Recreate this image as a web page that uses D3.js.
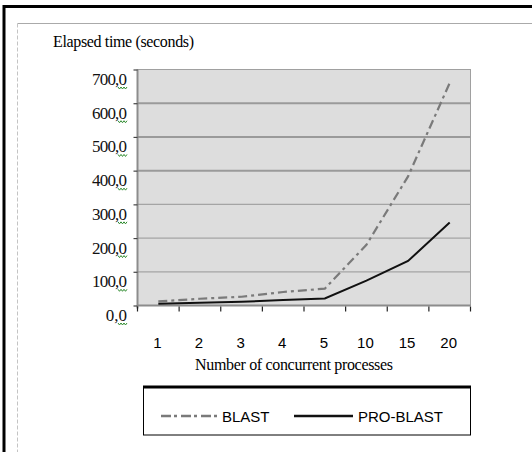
<!DOCTYPE html>
<html>
<head>
<meta charset="utf-8">
<script src="https://cdn.jsdelivr.net/npm/d3@7/dist/d3.min.js"></script>
<style>
  body { margin: 0; background: #fff; }
</style>
</head>
<body>
<svg id="chart" width="532" height="452"></svg>
<script>
// data
const processes = ['1', '2', '3', '4', '5', '10', '15', '20'];
const blast = [12, 20, 26, 40, 50, 180, 383, 660];
const proBlast = [5, 8, 11, 16, 21, 74, 132, 246];
const yTicks = [0, 100, 200, 300, 400, 500, 600, 700];
const seriesNames = ['BLAST', 'PRO-BLAST'];

const SERIF = "'Liberation Serif', 'DejaVu Serif', 'Times New Roman', serif";
const SANS = "'Liberation Sans', Arial, sans-serif";

const svg = d3.select('#chart');
const plot = { left: 137.5, right: 470.5, top: 69.5, bottom: 305.5 };

// page frames
svg.append('rect').attr('width', 532).attr('height', 452).attr('fill', '#fff');
svg.append('path')
  .attr('d', 'M4,452 L4,6.5 L532,6.5')
  .attr('fill', 'none').attr('stroke', '#000').attr('stroke-width', 3);
svg.append('line')
  .attr('x1', 17.5).attr('x2', 532).attr('y1', 23.5).attr('y2', 23.5)
  .attr('stroke', '#aaa').attr('stroke-width', 1);
svg.append('line')
  .attr('x1', 17.5).attr('x2', 17.5).attr('y1', 23.5).attr('y2', 452)
  .attr('stroke', '#c4c4c4').attr('stroke-width', 1)
  .attr('stroke-dasharray', '4,2');

const x = d3.scaleBand().domain(processes).range([plot.left, plot.right]);
const y = d3.scaleLinear().domain([0, 700]).range([plot.bottom, plot.top]);

// plot background
svg.append('rect')
  .attr('x', plot.left).attr('y', plot.top)
  .attr('width', plot.right - plot.left).attr('height', plot.bottom - plot.top)
  .attr('fill', '#dddddd')
  .attr('stroke', '#a0a0a0').attr('stroke-width', 1);

// gridlines
svg.append('g').selectAll('line')
  .data(yTicks.filter(d => d > 0 && d < 700))
  .enter().append('line')
    .attr('x1', plot.left).attr('x2', plot.right)
    .attr('y1', d => y(d)).attr('y2', d => y(d))
    .attr('stroke', d => d >= 400 ? '#9a9a9a' : '#a4a4a4')
    .attr('stroke-width', d => d >= 400 ? 2 : 1.2);

// y axis
const yAxis = svg.append('g')
  .attr('transform', `translate(${plot.left},0)`)
  .call(d3.axisLeft(y).tickValues(yTicks).tickSize(4).tickFormat(''));
yAxis.select('.domain').attr('stroke', '#8c8c8c').attr('stroke-width', 2)
  .attr('d', `M0,${plot.top}V${plot.bottom + 3}`);
yAxis.selectAll('.tick line').attr('stroke', '#444').attr('stroke-width', 1.2);

const yLab = svg.append('g');
yLab.selectAll('text')
  .data(yTicks)
  .enter().append('text')
    .attr('x', 127)
    .attr('y', d => y(d) + 15.5)
    .attr('text-anchor', 'end')
    .style('font-family', SERIF)
    .attr('font-size', 17)
    .attr('textLength', d => d === 0 ? null : 35)
    .attr('fill', '#111')
    .text(d => d3.format('.1f')(d).replace('.', ','));
// green spell-check squiggles under the last digit
yLab.selectAll('path')
  .data(yTicks)
  .enter().append('path')
    .attr('transform', d => `translate(118,${y(d) + 16.5})`)
    .attr('d', 'M0,1 L1.5,3 L3,1 L4.5,3 L6,1 L7.5,3 L9,1')
    .attr('fill', 'none').attr('stroke', '#2e8b2e').attr('stroke-width', 1);

// x axis
const xAxis = svg.append('g')
  .attr('transform', `translate(0,${plot.bottom})`)
  .call(d3.axisBottom(x).tickSize(0).tickPadding(0));
xAxis.select('.domain').attr('stroke', '#8c8c8c').attr('stroke-width', 2)
  .attr('d', `M${plot.left},0H${plot.right}`);
xAxis.selectAll('.tick text')
  .style('font-family', SANS).attr('font-size', 15).attr('fill', '#000')
  .attr('dx', -1).attr('y', 42).attr('dy', null);
svg.append('g').selectAll('line')
  .data(processes.concat(['end']))
  .enter().append('line')
    .attr('x1', d => d === 'end' ? plot.right : x(d))
    .attr('x2', d => d === 'end' ? plot.right : x(d))
    .attr('y1', plot.bottom + 1).attr('y2', plot.bottom + 6)
    .attr('stroke', '#222').attr('stroke-width', 1.2);

// series
const line = d3.line()
  .x((d, i) => x(processes[i]) + x.bandwidth() / 2)
  .y(d => y(d));

svg.append('path')
  .datum(blast)
  .attr('d', line)
  .attr('fill', 'none')
  .attr('stroke', '#7a7a7a')
  .attr('stroke-width', 2.2)
  .attr('stroke-dasharray', '9,4,3,4');

svg.append('path')
  .datum(proBlast)
  .attr('d', line)
  .attr('fill', 'none')
  .attr('stroke', '#111')
  .attr('stroke-width', 2);

// axis titles
svg.append('text').style('font-family', SERIF)
  .attr('x', 53).attr('y', 47)
  .attr('font-size', 16).attr('textLength', 141)
  .text('Elapsed time (seconds)');
svg.append('text').style('font-family', SERIF)
  .attr('x', 195).attr('y', 370)
  .attr('font-size', 16).attr('textLength', 198)
  .text('Number of concurrent processes');

// legend
const leg = svg.append('g');
leg.append('rect')
  .attr('x', 143.5).attr('y', 386.5).attr('width', 327).attr('height', 48.5)
  .attr('fill', '#fff').attr('stroke', '#000').attr('stroke-width', 1);
leg.append('line')
  .attr('x1', 143).attr('x2', 471).attr('y1', 387).attr('y2', 387)
  .attr('stroke', '#000').attr('stroke-width', 3);

const legItems = [
  { x: 161, w: 58, tx: 222, color: '#7a7a7a', dash: '10,3,3,4' },
  { x: 294, w: 59, tx: 358, color: '#111', dash: null }
];
legItems.forEach((it, i) => {
  leg.append('line')
    .attr('x1', it.x).attr('x2', it.x + it.w)
    .attr('y1', 416).attr('y2', 416)
    .attr('stroke', it.color).attr('stroke-width', 2.5)
    .attr('stroke-dasharray', it.dash);
  leg.append('text')
    .style('font-family', SANS)
    .attr('x', it.tx).attr('y', 421.5)
    .attr('font-size', 15).attr('fill', '#000')
    .text(seriesNames[i]);
});
</script>
</body>
</html>
